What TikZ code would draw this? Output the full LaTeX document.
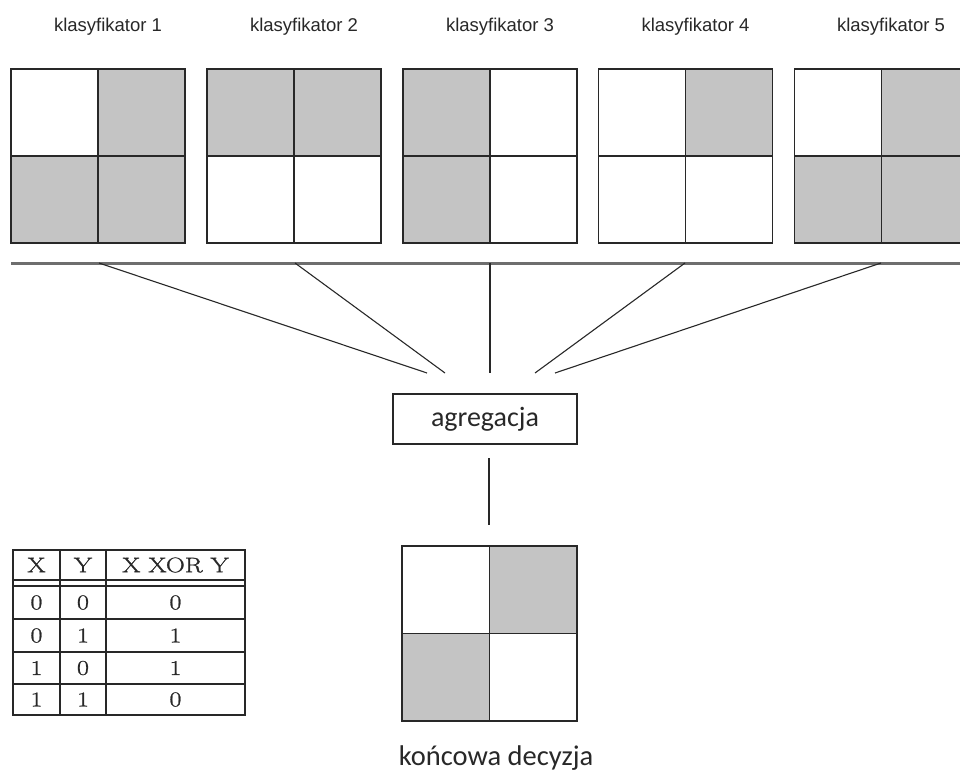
\documentclass[tikz,border=0pt]{standalone}
\usepackage{fontspec}
\newfontfamily\arialf{Liberation Sans}
\newfontfamily\calf{Carlito}
\newfontfamily\tabf[FakeBold=1.2,FakeStretch=1.25]{Latin Modern Roman}
\definecolor{cellgray}{RGB}{196,196,196}
\definecolor{ink}{RGB}{40,40,40}
\definecolor{bargray}{RGB}{110,110,110}
\tikzset{
  gridline/.style={draw=ink, line width=1.9pt},
  lab/.style={font=\arialf\fontsize{18.5}{20}\selectfont, text=ink, inner sep=0pt, anchor=base},
  fan/.style={draw=ink, line width=1.1pt},
  aggbox/.style={draw=ink, line width=1.6pt, minimum width=184pt, minimum height=50pt, inner sep=0pt, font=\calf\fontsize{28}{30}\selectfont, text=ink},
  tline/.style={draw=ink, line width=1.4pt},
  tcell/.style={font=\tabf\fontsize{21}{24}\selectfont, text=ink, inner sep=0pt},
}
\newcommand\qgrid[7]{%
  \fill[#4] (#1,#2) rectangle ++(#3/2,#3/2);
  \fill[#5] (#1+#3/2,#2) rectangle ++(#3/2,#3/2);
  \fill[#6] (#1,#2+#3/2) rectangle ++(#3/2,#3/2);
  \fill[#7] (#1+#3/2,#2+#3/2) rectangle ++(#3/2,#3/2);
  \draw[gridline] (#1,#2) rectangle ++(#3,#3);
  \draw[gridline] (#1+#3/2,#2) -- ++(0,#3);
  \draw[gridline] (#1,#2+#3/2) -- ++(#3,0);
}
\begin{document}
\begin{tikzpicture}[x=1pt,y=-1pt]
\useasboundingbox (0,0) rectangle (960,771);
\fill[white] (0,0) rectangle (960,771);
% classifier grids
\qgrid{11}{69}{174}{white}{cellgray}{cellgray}{cellgray}
\qgrid{207}{69}{174}{cellgray}{cellgray}{white}{white}
\qgrid{403}{69}{174}{cellgray}{white}{cellgray}{white}
\qgrid{598.5}{69}{174}{white}{cellgray}{white}{white}
\qgrid{794.5}{69}{174}{white}{cellgray}{cellgray}{cellgray}
% labels
\node[lab] (l1) at (108,31.5) {klasyfikator 1};
\node[lab] (l2) at (304,31.5) {klasyfikator 2};
\node[lab] (l3) at (500,31.5) {klasyfikator 3};
\node[lab] (l4) at (695.5,31.5) {klasyfikator 4};
\node[lab] (l5) at (891,31.5) {klasyfikator 5};
% bar
\coordinate (barL) at (11,263.3);
\coordinate (barR) at (960,263.3);
\draw[draw=bargray, line width=2.6pt] (barL) -- (barR);
% fan
\coordinate (t1) at (99,263);
\coordinate (t2) at (295,263);
\coordinate (t3) at (490,263);
\coordinate (t4) at (685,263);
\coordinate (t5) at (881,263);
\coordinate (b1) at (427,373);
\coordinate (b2) at (445,373);
\coordinate (b3) at (490,373);
\coordinate (b4) at (535,373);
\coordinate (b5) at (555,373);
\foreach \i in {1,...,5} {\draw[fan] (t\i) -- (b\i);}
% aggregation box
\node[aggbox] (agg) at (485,419) {agregacja};
\coordinate (v1) at (489,458);
\coordinate (v2) at (489,525);
\draw[fan] (v1) -- (v2);
% final grid
\qgrid{402}{546}{175}{white}{cellgray}{cellgray}{white}
\node[font=\calf\fontsize{28.5}{30}\selectfont, text=ink, inner sep=0pt, anchor=base] (fin) at (496,765) {końcowa decyzja};
% table
\draw[tline] (13,550) rectangle (245,715);
\draw[tline] (60,550) -- (60,715);
\draw[tline] (106,550) -- (106,715);
\foreach \yy in {580,586,619,652,684} {\draw[tline] (13,\yy) -- (245,\yy);}
\node[tcell] (h1) at (36.5,565) {X};
\node[tcell] (h2) at (83,565) {Y};
\node[tcell] (h3) at (175.5,565) {X XOR Y};
\node[tcell] (r11) at (36.5,602.5) {0};
\node[tcell] (r12) at (83,602.5) {0};
\node[tcell] (r13) at (175.5,602.5) {0};
\node[tcell] (r21) at (36.5,635.5) {0};
\node[tcell] (r22) at (83,635.5) {1};
\node[tcell] (r23) at (175.5,635.5) {1};
\node[tcell] (r31) at (36.5,668) {1};
\node[tcell] (r32) at (83,668) {0};
\node[tcell] (r33) at (175.5,668) {1};
\node[tcell] (r41) at (36.5,699.5) {1};
\node[tcell] (r42) at (83,699.5) {1};
\node[tcell] (r43) at (175.5,699.5) {0};
\end{tikzpicture}
\end{document}
